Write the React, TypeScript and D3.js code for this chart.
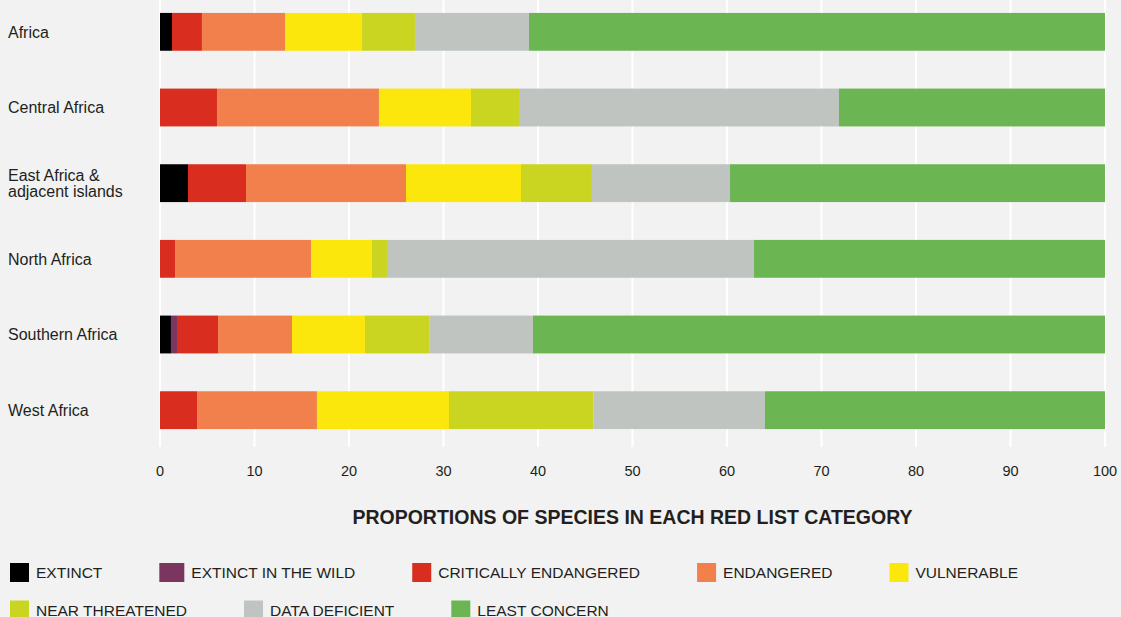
import { useEffect, useRef } from "react";
import * as d3 from "d3";

// MARK: data (percent of species per Red List category)
const regions = [
  "Africa",
  "Central Africa",
  "East Africa & adjacent islands",
  "North Africa",
  "Southern Africa",
  "West Africa",
];
const regionLines = [
  ["Africa"],
  ["Central Africa"],
  ["East Africa &", "adjacent islands"],
  ["North Africa"],
  ["Southern Africa"],
  ["West Africa"],
];

const extinct = [1.27, 0, 2.96, 0, 1.16, 0];
const extinctWild = [0, 0, 0, 0, 0.64, 0];
const critically = [3.17, 6.03, 6.14, 1.59, 4.34, 3.92];
const endangered = [8.79, 17.14, 16.93, 14.39, 7.83, 12.69];
const vulnerable = [8.15, 9.74, 12.17, 6.45, 7.72, 13.97];
const nearThreatened = [5.6, 5.08, 7.51, 1.59, 6.85, 15.31];
const dataDeficient = [12.07, 33.86, 14.61, 38.84, 10.93, 18.13];
const leastConcern = [60.95, 28.15, 39.68, 37.14, 60.53, 35.98];

const categories = [
  "EXTINCT",
  "EXTINCT IN THE WILD",
  "CRITICALLY ENDANGERED",
  "ENDANGERED",
  "VULNERABLE",
  "NEAR THREATENED",
  "DATA DEFICIENT",
  "LEAST CONCERN",
];
const seriesValues = [
  extinct,
  extinctWild,
  critically,
  endangered,
  vulnerable,
  nearThreatened,
  dataDeficient,
  leastConcern,
];
const colors = [
  "#000000",
  "#7b3660",
  "#d92e1f",
  "#f1804d",
  "#fbe70c",
  "#cad521",
  "#bfc4c1",
  "#6bb653",
];
const xTicks = [0, 10, 20, 30, 40, 50, 60, 70, 80, 90, 100];
const axisTitle = "PROPORTIONS OF SPECIES IN EACH RED LIST CATEGORY";

const W = 1121;
const H = 617;
const FONT = "'Liberation Sans', Arial, Helvetica, sans-serif";
const INK = "#231f20";

export default function App() {
  const ref = useRef<SVGSVGElement | null>(null);

  useEffect(() => {
    if (!ref.current) return;
    const svg = d3.select(ref.current);
    svg.selectAll("*").remove();

    svg.append("rect").attr("width", W).attr("height", H).attr("fill", "#f2f2f2");

    const x = d3.scaleLinear().domain([0, 100]).range([160, 1105]);
    const y = d3
      .scaleBand<string>()
      .domain(regions)
      .range([-6, 448])
      .paddingInner(0.5)
      .paddingOuter(0.25);

    // MARK: gridlines
    svg
      .append("g")
      .selectAll("line")
      .data(xTicks)
      .join("line")
      .attr("x1", (d) => x(d))
      .attr("x2", (d) => x(d))
      .attr("y1", 0)
      .attr("y2", 447)
      .attr("stroke", "#ffffff")
      .attr("stroke-width", 2);

    // MARK: stacked bars
    const rows = regions.map((r, i) => {
      const row: Record<string, number | string> = { region: r };
      categories.forEach((c, k) => (row[c] = seriesValues[k][i]));
      return row;
    });
    const stacked = d3.stack<any>().keys(categories)(rows);

    svg
      .append("g")
      .selectAll("g")
      .data(stacked)
      .join("g")
      .attr("fill", (_, k) => colors[k])
      .selectAll("rect")
      .data((s) => s)
      .join("rect")
      .attr("x", (d) => x(d[0]))
      .attr("y", (d) => y(d.data.region as string) ?? 0)
      .attr("width", (d) => Math.max(0, x(d[1]) - x(d[0])))
      .attr("height", y.bandwidth());

    // MARK: region labels
    const labels = svg
      .append("g")
      .attr("font-family", FONT)
      .attr("font-size", 16)
      .attr("fill", INK);
    regions.forEach((r, i) => {
      const lines = regionLines[i];
      const cy = (y(r) ?? 0) + y.bandwidth() / 2;
      const lh = 16.7;
      lines.forEach((ln, j) => {
        labels
          .append("text")
          .attr("x", 8)
          .attr("y", cy + (j - (lines.length - 1) / 2) * lh)
          .attr("dy", "0.36em")
          .text(ln);
      });
    });

    // MARK: x axis labels
    svg
      .append("g")
      .attr("font-family", FONT)
      .attr("font-size", 14.5)
      .attr("fill", INK)
      .attr("text-anchor", "middle")
      .selectAll("text")
      .data(xTicks)
      .join("text")
      .attr("x", (d) => x(d))
      .attr("y", 471)
      .attr("dy", "0.36em")
      .text((d) => String(d));

    svg
      .append("text")
      .attr("x", x(50))
      .attr("y", 517)
      .attr("dy", "0.36em")
      .attr("text-anchor", "middle")
      .attr("font-family", FONT)
      .attr("font-size", 19.5)
      .attr("font-weight", 600)
      .attr("fill", INK)
      .text(axisTitle);

    // MARK: legend (flow layout, wraps like the original)
    const legend = svg
      .append("g")
      .attr("font-family", FONT)
      .attr("font-size", 15.5)
      .attr("fill", INK);
    const swH = 19;
    const rowY = [572.5, 610];
    let lx = 10;
    let row = 0;
    categories.forEach((c, k) => {
      // the "extinct in the wild" key is drawn a little wider in the original
      const swW = c === "EXTINCT IN THE WILD" ? 25 : 19;
      const g = legend.append("g");
      const t = g
        .append("text")
        .attr("x", swW + 7)
        .attr("dy", "0.36em")
        .text(c);
      const tw = (t.node() as SVGTextElement).getComputedTextLength();
      const itemW = swW + 7 + tw;
      if (lx + itemW > W - 10) {
        row += 1;
        lx = 10;
      }
      g.attr("transform", `translate(${lx},${rowY[row]})`);
      g.insert("rect", "text")
        .attr("x", 0)
        .attr("y", -swH / 2)
        .attr("width", swW)
        .attr("height", swH)
        .attr("fill", colors[k]);
      lx += itemW + 57;
    });
  }, []);

  return (
    <svg
      ref={ref}
      width={W}
      height={H}
      style={{ position: "absolute", left: 0, top: 0, display: "block" }}
    />
  );
}
